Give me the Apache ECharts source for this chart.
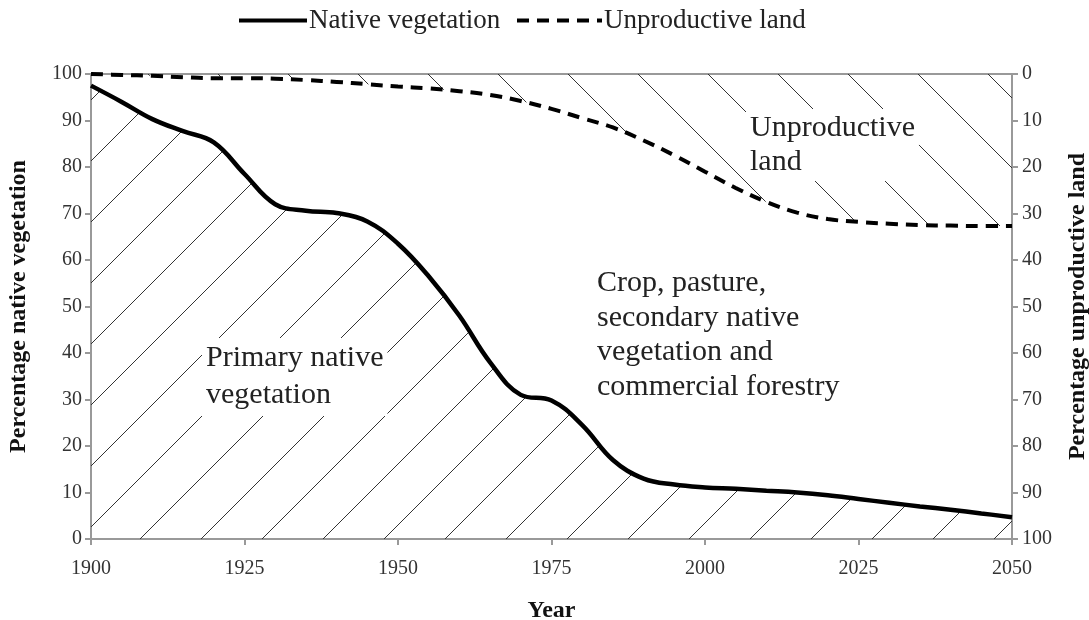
<!DOCTYPE html>
<html>
<head>
<meta charset="utf-8">
<script src="https://cdn.jsdelivr.net/npm/echarts@6/dist/echarts.min.js"></script>
<style>
  html, body { margin: 0; padding: 0; background: #fff; }
  #chart { width: 1089px; height: 620px; }
</style>
</head>
<body>
<div id="chart"></div>
<script>
// years, every 5 years
const years = [1900, 1905, 1910, 1915, 1920, 1925, 1930, 1935, 1940, 1945, 1950,
  1955, 1960, 1965, 1970, 1975, 1980, 1985, 1990, 1995, 2000,
  2005, 2010, 2015, 2020, 2025, 2030, 2035, 2040, 2045, 2050];
// percentage native vegetation (left axis)
const nativeVeg = [97.5, 94, 90.3, 87.7, 85.3, 78.5, 72, 70.6, 70.1, 68.3, 63.5,
  56.5, 48, 38, 31, 29.8, 24.5, 17, 13, 11.7, 11.1,
  10.8, 10.4, 10, 9.4, 8.6, 7.8, 7, 6.3, 5.5, 4.7];
// percentage unproductive land (right axis, inverted)
const unproductive = [0, 0.2, 0.4, 0.7, 0.9, 0.9, 1.0, 1.3, 1.7, 2.2, 2.7,
  3.1, 3.7, 4.5, 5.8, 7.5, 9.5, 11.5, 14.3, 17.5, 21,
  24.5, 27.5, 29.8, 31.2, 31.8, 32.2, 32.5, 32.6, 32.7, 32.7];

const SERIF = "'Liberation Serif', 'DejaVu Serif', serif";

// hatch tile for the area fills
function hatch(size, dir, shift) {
  const c = document.createElement('canvas');
  c.width = c.height = size;
  const g = c.getContext('2d');
  g.strokeStyle = '#333';
  g.lineWidth = 1;
  for (const k of [-size, 0, size]) {
    const x = k + shift;
    g.beginPath();
    if (dir === '/') { g.moveTo(x, size); g.lineTo(x + size, 0); }
    else { g.moveTo(x, 0); g.lineTo(x + size, size); }
    g.stroke();
  }
  return c;
}

const chart = echarts.init(document.getElementById('chart'));

const axisLine = { lineStyle: { color: '#999', width: 2 } };
const axisTick = { show: true, length: 6, lineStyle: { color: '#999', width: 2 } };
const axisLabel = { color: '#333', fontFamily: SERIF, fontSize: 20 };
const nameStyle = { color: '#111', fontFamily: SERIF, fontSize: 24, fontWeight: 'bold' };
const legendText = { fontFamily: SERIF, fontSize: 27, color: '#222', padding: [0, 0, 0, -3] };

chart.setOption({
  backgroundColor: '#fff',
  animation: false,
  grid: { left: 91, right: 77, top: 74, bottom: 81, outerBoundsMode: 'none',
    show: true, borderColor: '#999', borderWidth: 2 },
  legend: [
    { data: ['Native vegetation'], left: 237, top: 7, padding: 0, itemWidth: 68, itemHeight: 14,
      textStyle: legendText, itemStyle: { opacity: 0 }, lineStyle: { width: 4 } },
    { data: ['Unproductive land'], left: 515, top: 7, padding: 0, itemWidth: 85, itemHeight: 14,
      textStyle: legendText, itemStyle: { opacity: 0 }, lineStyle: { width: 4 } }
  ],
  xAxis: {
    type: 'value', min: 1900, max: 2050, interval: 25,
    name: 'Year', nameLocation: 'middle', nameGap: 60, nameTextStyle: nameStyle,
    axisLine, axisTick,
    axisLabel: { ...axisLabel, margin: 20, formatter: v => String(v) },
    splitLine: { show: false }
  },
  yAxis: [
    {
      type: 'value', min: 0, max: 100, interval: 10,
      name: 'Percentage native vegetation', nameLocation: 'middle', nameGap: 60,
      nameTextStyle: nameStyle,
      axisLine: { show: true, ...axisLine }, axisTick,
      axisLabel: { ...axisLabel, margin: 9 },
      splitLine: { show: false }
    },
    {
      type: 'value', min: 0, max: 100, interval: 10, inverse: true, position: 'right',
      name: 'Percentage unproductive land', nameLocation: 'middle', nameGap: 54,
      nameTextStyle: nameStyle,
      axisLine: { show: true, ...axisLine }, axisTick,
      axisLabel: { ...axisLabel, margin: 10 },
      splitLine: { show: false }
    }
  ],
  series: [
    {
      name: 'Native vegetation', type: 'line', yAxisIndex: 0, smooth: 0.4, symbol: 'none',
      data: years.map((y, i) => [y, nativeVeg[i]]),
      lineStyle: { color: '#000', width: 4.5 },
      itemStyle: { color: '#000' },
      areaStyle: { color: { image: hatch(61, '/', 8), repeat: 'repeat' }, opacity: 1 },
      z: 3
    },
    {
      name: 'Unproductive land', type: 'line', yAxisIndex: 1, smooth: 0.4, symbol: 'none',
      data: years.map((y, i) => [y, unproductive[i]]),
      lineStyle: { color: '#000', width: 4, type: [12, 8] },
      itemStyle: { color: '#000' },
      areaStyle: { color: { image: hatch(70, '\\', 4), repeat: 'repeat' }, opacity: 1, origin: 'start' },
      z: 3
    }
  ],
  graphic: [
    { type: 'text', left: 202, top: 338, z: 10,
      style: { text: 'Primary native\nvegetation', font: '30px ' + SERIF, fill: '#222',
        lineHeight: 37, backgroundColor: '#fff', padding: [2, 4] } },
    { type: 'text', left: 597, top: 266, z: 10,
      style: { text: 'Crop, pasture,\nsecondary native\nvegetation and\ncommercial forestry',
        font: '30px ' + SERIF, fill: '#222', lineHeight: 34.5 } },
    { type: 'text', left: 746, top: 109, z: 10,
      style: { text: 'Unproductive\nland', font: '30px ' + SERIF, fill: '#222',
        lineHeight: 34, backgroundColor: '#fff', padding: [2, 4] } }
  ]
});
</script>
</body>
</html>
